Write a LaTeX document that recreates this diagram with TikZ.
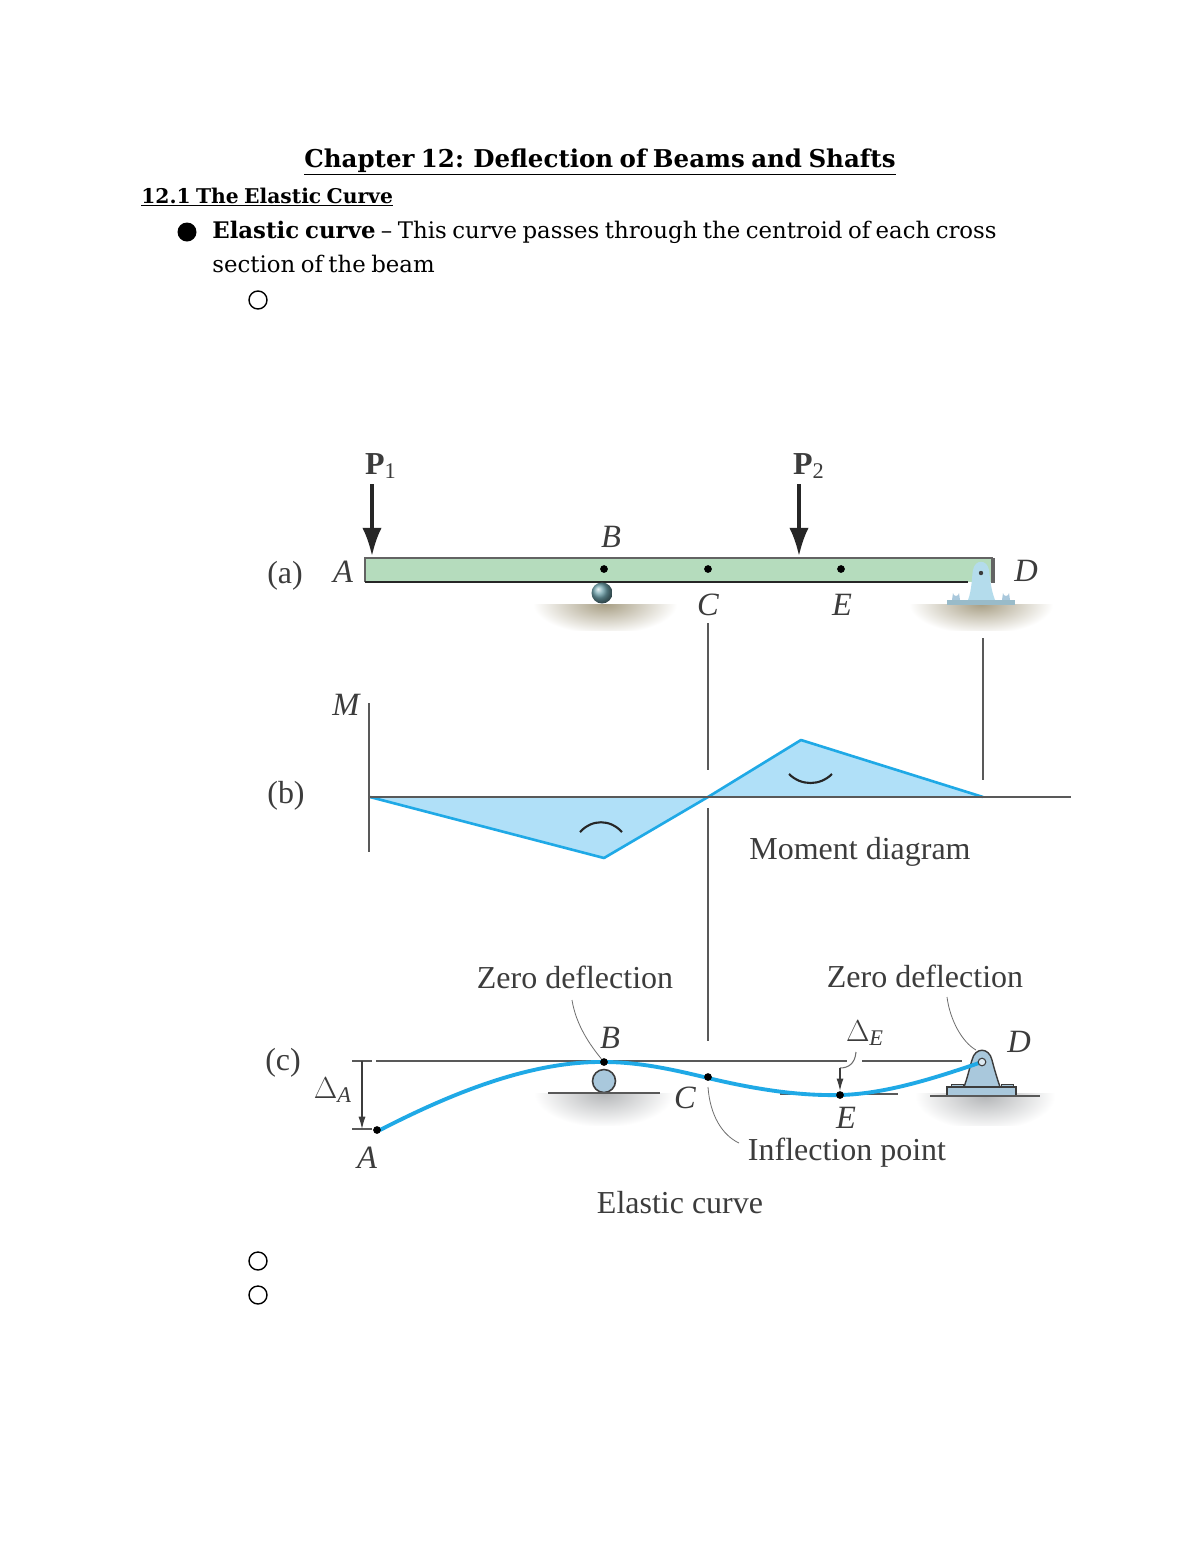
\documentclass[tikz,border=0pt]{standalone}
\usepackage{fontspec}
\setmainfont[WordSpace=0.75]{DejaVu Serif}
\newfontfamily\figfont{Liberation Serif}
\usetikzlibrary{calc,arrows.meta}

\definecolor{beamgreen}{HTML}{B5DCBD}
\definecolor{momentblue}{HTML}{B0E0F8}
\definecolor{curveblue}{HTML}{1FA9E6}
\definecolor{steelblue}{HTML}{A9C8DC}
\definecolor{pinblue}{HTML}{B4DCEC}
\definecolor{rollerteal}{HTML}{6FA3AD}
\definecolor{groundtan}{HTML}{A89F85}
\definecolor{groundgray}{HTML}{B4B6B8}
\definecolor{figgray}{HTML}{3C3C3C}

\tikzset{
  figlabel/.style={font=\figfont\fontsize{18.2}{20}\selectfont, text=figgray, inner sep=0pt},
  figit/.style={font=\figfont\itshape\fontsize{18.5}{20}\selectfont, text=figgray, inner sep=0pt},
  bodytext/.style={font=\fontsize{13}{15}\selectfont, anchor=base west, inner sep=0pt},
  guide/.style={draw=figgray!85, line width=0.8pt},
  leader/.style={draw=figgray!75, line width=0.45pt},
  pointdot/.style={circle, fill=black, inner sep=0pt, minimum size=4.4pt},
  load/.style={line width=1.9pt, black!85, -{Latex[length=16pt,width=11pt]}}
}

\begin{document}
\begin{tikzpicture}[x=0.02cm,y=-0.02cm]
\useasboundingbox (0,0) rectangle (1200,1553);
\fill[white] (0,0) rectangle (1200,1553);

% Page text
\node[font=\bfseries\fontsize{13.95}{17}\selectfont, anchor=base, inner sep=0pt] (title) at (600,167) {\underline{Chapter 12: Deflection of Beams and Shafts}};
\node[bodytext, font=\bfseries\fontsize{11.55}{15}\selectfont] (section) at (141,203) {\underline{12.1 The Elastic Curve}};
\node[bodytext] (lineone) at (212,238) {\textbf{Elastic curve} -- This curve passes through the centroid of each cross};
\node[bodytext] (linetwo) at (212,272) {section of the beam};

% Bullets
\fill (187,232) circle (9.5);
\foreach \y in {300,1261,1295} {
  \draw[line width=0.8pt] (258,\y) circle (9);
}

% Beam (a)
\fill[beamgreen] (365,558) rectangle (993,582);
\draw[figgray!80, line width=1.3pt] (365,582) -- (365,558) -- (993,558);
\draw[black!85, line width=1.1pt] (365,582) -- (968,582);
\draw[figgray!80, line width=2pt] (993,558) -- (993,583);
\node[pointdot] (ba) at (604,569) {};
\node[pointdot] (ca) at (708,569) {};
\node[pointdot] (ea) at (841,569) {};

% Ground (a)
\begin{scope}
  \clip (530,604) rectangle (1060,630);
  \shade[inner color=groundtan, outer color=white] (605,604) ellipse (72 and 30);
  \shade[inner color=groundtan, outer color=white] (981,604) ellipse (72 and 30);
\end{scope}

% Roller and pin (a)
\shade[ball color=rollerteal] (602,593) circle (10.5);
\fill[pinblue] (968,600) .. controls (972,590) and (972,574) .. (973,570)
  .. controls (975,559) and (987,559) .. (989,570)
  .. controls (990,578) and (991,590) .. (995,600) -- cycle;
\fill[figgray] (981,573) circle (2.2);
\foreach \x in {956,1006} {
  \fill[steelblue] (\x-4,600) -- (\x-3,593) arc[start angle=180, end angle=0, radius=3] -- (\x+4,600) -- cycle;
}
\fill[pinblue!85!black] (947,600) rectangle (1015,605);

% Loads
\coordinate (ptop1) at (372,484);
\coordinate (pend1) at (372,556);
\coordinate (ptop2) at (799,484);
\coordinate (pend2) at (799,556);
\draw[load] (ptop1) -- (pend1);
\draw[load] (ptop2) -- (pend2);

% Labels (a)
\node[figlabel] (labela) at (285,576) {(a)};
\node[figit] (aa) at (343,572) {A};
\node[figit] (la) at (611,537) {B};
\node[figit] (cla) at (708,605) {C};
\node[figit] (ela) at (842,605) {E};
\node[figit] (da) at (1026,571) {D};
\node[figlabel] (p1) at (381,466) {\textbf{P}\textsubscript{1}};
\node[figlabel] (p2) at (809,466) {\textbf{P}\textsubscript{2}};

% Moment diagram (b)
\coordinate (m0) at (370,797);
\coordinate (mb) at (604,858);
\coordinate (mc) at (708,797);
\coordinate (me) at (801,740);
\coordinate (md) at (983,797);
\fill[momentblue] (m0) -- (mb) -- (mc) -- (me) -- (md) -- cycle;
\draw[curveblue, line width=1.5pt, line join=round] (m0) -- (mb) -- (mc) -- (me) -- (md);

% Guide lines
\coordinate (gc1) at (708,623);
\coordinate (gc2) at (708,770);
\coordinate (gc3) at (708,808);
\coordinate (gc4) at (708,1041);
\coordinate (gd1) at (983,638);
\coordinate (gd2) at (983,780);
\coordinate (mtop) at (369,703);
\coordinate (mbot) at (369,852);
\coordinate (axisend) at (1071,797);
\draw[guide] (gc1) -- (gc2);
\draw[guide] (gc3) -- (gc4);
\draw[guide] (gd1) -- (gd2);
\draw[guide, line width=1pt] (mtop) -- (mbot);
\draw[guide, line width=1pt] (m0) -- (axisend);

% Curvature marks
\draw[black!85, line width=1.2pt] (580,832) .. controls (592,819) and (610,819) .. (622,832);
\draw[black!85, line width=1.2pt] (789,774) .. controls (801,786) and (820,786) .. (832,774);

% Labels (b)
\node[figlabel] (labelb) at (286,796) {(b)};
\node[figit] (ml) at (346,705) {M};
\node[figlabel] (moment) at (860,852) {Moment diagram};

% Elastic curve (c)
\coordinate (ref1) at (376,1061);
\coordinate (ref2) at (847,1061);
\coordinate (ref3) at (862,1061);
\coordinate (ref4) at (962,1061);
\draw[guide, line width=1pt] (ref1) -- (ref2);
\draw[guide, line width=1pt] (ref3) -- (ref4);

% Ground and roller (c)
\begin{scope}
  \clip (530,1093) rectangle (1060,1125);
  \shade[inner color=groundgray, outer color=white] (604,1093) ellipse (70 and 34);
  \shade[inner color=groundgray, outer color=white] (985,1096) ellipse (70 and 34);
\end{scope}
\draw[fill=steelblue, draw=figgray, line width=0.9pt] (604,1081) circle (11.5);
\draw[guide, line width=1pt] (548,1093) -- (660,1093);

% Pin (c)
\foreach \x in {957,1007} {
  \draw[fill=steelblue, draw=figgray, line width=0.5pt] (\x-6,1087) rectangle (\x+6,1084);
}
\draw[fill=steelblue, draw=figgray, line width=0.8pt] (964,1087)
  .. controls (968,1076) and (970,1066) .. (972,1060)
  .. controls (975,1047) and (989,1047) .. (992,1060)
  .. controls (994,1068) and (997,1078) .. (1000,1087) -- cycle;
\draw[fill=steelblue, draw=figgray, line width=0.8pt] (947,1087) rectangle (1016,1096);
\draw[guide, line width=1pt] (930,1096) -- (1040,1096);

% Flat line at E
\coordinate (flat1) at (780,1094);
\coordinate (flat2) at (898,1094);
\draw[guide] (flat1) -- (flat2);

% Deflected shape
\draw[curveblue, line width=2.2pt, line cap=round]
  (380,1130) .. controls (450,1094) and (530,1061) .. (604,1062)
  .. controls (640,1062) and (675,1070) .. (708,1078)
  .. controls (750,1088) and (795,1096) .. (840,1095)
  .. controls (885,1094) and (935,1078) .. (979,1063);
\draw[fill=white!60!steelblue, draw=figgray, line width=0.6pt] (982,1062) circle (3.8);

\node[pointdot] (pa) at (377,1130) {};
\node[pointdot] (pb) at (604,1062) {};
\node[pointdot] (pc) at (708,1077) {};
\node[pointdot] (pe) at (840,1095) {};

% Delta A
\coordinate (ta1) at (352,1061);
\coordinate (ta2) at (372,1061);
\coordinate (tb1) at (352,1129);
\coordinate (tb2) at (372,1129);
\coordinate (dtop) at (362,1061);
\coordinate (dbot) at (362,1129);
\draw[guide, line width=0.6pt] (ta1) -- (ta2);
\draw[guide, line width=0.6pt] (tb1) -- (tb2);
\draw[figgray, line width=0.6pt, -{Latex[length=7pt,width=4pt]}] (dtop) -- (dbot);

% Delta E
\coordinate (curl1) at (856,1052);
\coordinate (curl2) at (840,1068);
\draw[leader, line width=0.6pt] (curl1) .. controls (855,1064) and (848,1068) .. (curl2);
\draw[figgray, line width=0.6pt, -{Latex[length=7pt,width=4pt]}] (curl2) -- (pe);

% Leaders
\coordinate (zb) at (572,1000);
\coordinate (zd) at (947,997);
\coordinate (pintop) at (976,1050);
\coordinate (infl0) at (708,1087);
\coordinate (infl) at (739,1143);
\draw[leader] (zb) .. controls (576,1025) and (590,1045) .. (pb);
\draw[leader] (zd) .. controls (950,1020) and (962,1042) .. (pintop);
\draw[leader] (infl0) .. controls (710,1115) and (722,1135) .. (infl);

% Labels (c)
\node[figlabel] (labelc) at (283,1063) {(c)};
\node[figit] (cb) at (610,1038) {B};
\node[figit] (cc) at (685,1098) {C};
\node[figit] (ce) at (846,1118) {E};
\node[figit] (cd) at (1019,1042) {D};
\node[figit] (ca2) at (367,1158) {A};
\node[figlabel] (deltaa) at (333,1090) {$\Delta$\textsubscript{\textit{A}}};
\node[figlabel] (deltae) at (865,1033) {$\Delta$\textsubscript{\textit{E}}};
\node[figlabel] (zero1) at (575,977) {Zero deflection};
\node[figlabel] (zero2) at (925,976) {Zero deflection};
\node[figlabel] (inflection) at (847,1153) {Inflection point};
\node[figlabel] (elastic) at (680,1203) {Elastic curve};

\end{tikzpicture}
\end{document}
